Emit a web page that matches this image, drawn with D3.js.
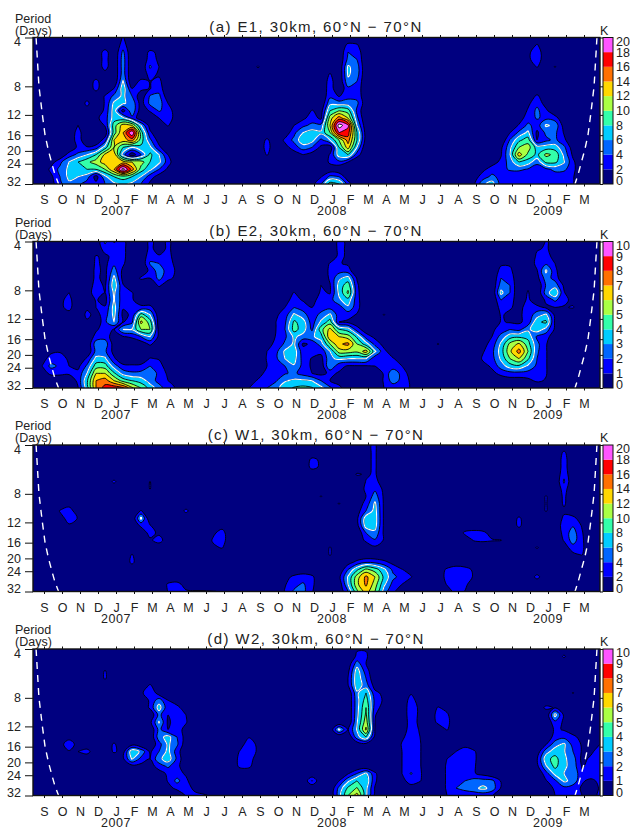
<!DOCTYPE html>
<html>
<head>
<meta charset="utf-8">
<script src="https://cdn.jsdelivr.net/npm/d3@7"></script>
<style>
  body { margin: 0; background: #fff; }
  svg { display: block; }
  text { font-family: "Liberation Sans", Arial, sans-serif; fill: #222; }
</style>
</head>
<body>
<div id="chart-area"></div>
<script>
const monthLabels = ["S","O","N","D","J","F","M","A","M","J","J","A","S","O","N","D","J","F","M","A","M","J","J","A","S","O","N","D","J","F","M"];
const yearLabels = ["2007", "2008", "2009"];
const yearMonths = [4, 16, 28];
const periodTicks = [4, 8, 12, 16, 20, 24, 32];
const bandColors = ["#000080","#0000ff","#0066ff","#00ccff","#33ffaa","#aaff44","#ffd800","#ff7000","#ff0000","#ff55ff"];

// cone of influence, month position for each period
const conePeriods = [4, 8, 12, 16, 20, 24, 28, 32];
const coneLeft = [-0.44, -0.28, -0.09, 0.06, 0.25, 0.44, 0.61, 0.81];
const coneRight = [30.72, 30.56, 30.37, 30.22, 30.03, 29.83, 29.67, 29.5];

// amplitude grid: half month columns, 21 rows between 4 and 32 days
// each entry is [row, first column, values...], anything not listed is 0
const e1Cells = [
  [0,10,2.2],[1,10,3],[2,8,3],[2,10,4.5],[2,13,2.6,1.4],[3,8,3],[3,10,5],[3,13,3,1.6],
  [4,8,3],[4,10,5],[4,13,4.3,2],[4,25,2.3],[5,8,1],[5,10,5],[5,13,3,1.6],
  [6,7,2.8],[6,10,6.2],[6,12,2.8,1.9,2.6],[7,7,2.8],[7,9,2.1,7.2,2.1],[7,12,2.5,1.9,3.2],
  [8,6,1],[8,8,2.2,4.5,6.5,4,.5],[8,13,4.2,4.5,.5],[9,6,2.6],[9,8,2.2,6.5,6.2,5.5,1],[9,13,4.5,5,2],
  [10,6,1],[10,8,2.5,7,1,5.5,.8],[10,13,2.2,4.2,3.2,.5],[11,7,1.5,3,7,6.5,3.5,.5,.5,2,3.5,.5],
  [12,5,2],[12,8,2.2,9,13,12,6,1,.5,2.2],[13,5,3],[13,8,.5,9,14,20,9,2.5],
  [14,5,3.2],[14,8,3,12,13,15,9,4.5,1],[14,26,2.5],[15,5,2.5,2.2,3,7,12,8,6,7.5,6.5,2.5],[15,26,3],
  [16,4,3,4.5,6,8,12.5,13.5,5,.5,4,8.5,6,2],[16,26,2.2],
  [17,2,1,3.5,6,8,9.5,11,13,13,13,12,11,8,6.5,3],
  [18,2,2.6,4.5,6.5,7.5,8,8,10,14,21,15,9,6.5,4,1.5],
  [19,2,1.5,4,6.6,6,5,1,5.5,8,9,8,6,3,1],
  [20,2,1,3.5,5.5,4.5,3,2.5,4,5.5,6.5,5.5,4,1.5],
  // winter 2008
  [1,35,2.5,2.2],[2,35,4,3.4],[3,35,4.5,4],[4,35,6.3,5],[5,33,2.2],[5,35,6.3,5],[6,33,3],[6,35,5.5,4],
  [7,33,3.2],[7,35,3.5,3.5],[8,33,3.5,1.8,3.3,3.3,.5],[9,33,5.5,5,5,4.5,.5],
  [10,31,2.2,1,8,10,9,3.5],[11,30,1.5,3,1.5,11,15,12,4.5],[12,29,2,3.5,4.5,4.5,12,21,18.5,6,.5],
  [13,28,.5,3.5,6,7,6.5,10,18,17,8,1],[14,28,2.5,4.5,7.5,6.8,3.5,6,10,15,8,1],
  [15,28,1.2,3,5,4,1.5,.5,8,13,6],[16,29,.8,2,1,0,2.2,7,8,3],[17,33,2.5,3.5,2],[18,33,.5],
  [19,32,1.8,4.5,4,.5],[20,31,1,4,9,8,3],
  // winter 2009
  [1,56,2.2],[2,55,1.5,3.2,.5],[3,55,1.5,3.2,.5],[4,56,2.2],[4,58,2.2],[8,56,2.5],[9,55,1.5,3.5,1],
  [10,55,2.3,4.5,2.5],[11,54,1,3,4.2,3.5,3],[12,53,.5,2.2,4.5,3,6.3,5.5,1],
  [13,53,2,4.5,6.5,1.5,4.5,4.5,1.8],[14,53,4.2,7.5,9,2,3.5,4.5,2.5],
  [15,52,1.5,5.5,10,11,7,7,7,4.5,.8],[16,52,1.8,6,13,9.5,7.5,10.5,9.5,5.5,1.5],
  [17,51,1,2.5,5,8,7,4.5,8.5,8.5,6.2,2.5],[18,50,1.5,3,3.5,4.2,4.4,3.8,3,3.5,4.5,4.5,2.5,.5],
  [19,49,1,3,4.5,3.3,3,2.5,2.2,2.2,2.5,3,2.5,2.2],[20,49,1.5,5.5,7,3,2.5,2.5,2.5,2.5,2.5,2.5,2.5,2.2]
];

const e2Cells = [
  [0,8,2.2,.9,1.4],[1,8,1.6,1.5,1.4],[2,7,1.1,.7,1.4,1.4],[3,7,1.2,.7,1.8,1.2],[4,7,1.3,.7,2.5,.7],
  [5,7,1.3,.6,3.3,.6],[5,12,1.2],[6,7,1.6,.8,3.7,1.1],[7,7,2,1,3.2,1.3,1.1],[8,7,1.1,.6,3.1,1.4,1.1,.5],
  [9,7,1,1.1,3.4,1.1,1.1,1.2,1.4],[10,7,.6,1.5,3.3,.7,1.2,4.5,3,.3],[11,8,1.8,3,.9,1.8,6.3,4.5,.3],
  [12,7,.8,1.6,.9,3,3.1,5,5,.5],[13,7,1.4,1.6,.4,.9,1.2,2,3,.7],[14,7,2.6,2.6,.5,0,0,.3,1.2,.3],
  [15,7,2.3,2.2,.6],[16,6,1.2,3.3,3.2,1.2],[16,13,1.1,.9],
  [17,5,.7,2.2,4.5,4.5,2.5,1.3,1.2,1.3,2,1.5,.3],[18,5,1.3,3,6,6,4.2,2.6,2.2,2.3,2.8,1.7,.8],
  [19,5,1.3,3.8,7,7.5,6,4.6,4,3.5,2.6,1.6,1],[20,5,.9,3.5,7,8.4,8.8,8.2,6.2,5,3.5,2.5,1.3,.9],
  [7,4,1],[8,3,.7,1.4],[9,3,.7,1.4],[10,4,.5],[9,6,.8],[10,6,1.3],[11,6,.8],
  [15,2,.8,.9],[16,1,.6,1.4,1.5,.8],[17,1,1,2.3,1.8,1],[18,1,.4,1.3,1.3,1.2],
  [0,13,1.3,.5,1.2,.5],[1,13,1.3,.5,1.2,.5],[2,13,1.7,1.1,1.3,.5],[3,13,2.1,2,1.5,.6],
  [4,13,1.3,2.5,1.6,.8],[5,13,1,2.3,1.3,.7],[6,14,1.2,.3],
  // winter 2008
  [0,34,1.3,.8],[1,34,1.3,.8],[2,34,1.3,.8],[3,33,1.1,1.1,.8],[4,33,1.3,1.6,1.5],[5,33,1.2,2.8,3.4,.9],
  [6,32,1,.9,3.4,4.6,1.2],[7,29,1.1],[7,32,1.2,.9,3.2,5.2,1.3],[8,28,.6,1.4,.9,.6,1.5,1.6,2.8,3.6,1.4],
  [9,28,1,2,1.6,1,1.5,1.7,1.5,2.8,1.4],[10,27,.8,1.5,3.2,2.4,1.4,2.3,3.2,1.5,1.4,.9],
  [11,27,1,1.8,4.2,3.5,1.5,3.2,4.5,1,.8,.3],[12,27,1,2,4.4,3.5,1.8,4.6,6.3,4,3.5,1.5,.3],
  [13,27,1.1,1.8,3.2,2.6,2.8,3.5,6.8,6,5.5,3.8,1.6,.7],[14,26,.7,1.2,2.2,3.2,.8,1.2,2.5,5,6.8,7.3,5,3.5,1.7,.6],
  [15,26,1,1.7,3.2,3.6,1.4,1.5,1.3,3,5.5,5.5,5.2,6.5,3.2,1.3,.3],
  [16,26,1.1,1.8,3,3.4,1.6,.9,.6,2.8,3.2,3,3,3,1.3,1.4,1.1,.4],
  [17,26,1,1.5,2,2.9,1.7,.8,.3,3,1.3,.9,.9,.9,1,1.3,1.4,1],
  [18,25,.6,1.3,1.6,1.9,2.2,1.6,1,.7,1.2,.9,.3,.3,.3,.3,1.1,2.8,1.6,.5],
  [19,24,.6,1.1,1.6,1.9,2.9,3.2,3.2,3,2,1,.7,.3,.3,.3,.3,1.1,2.5,1.7,.8],
  [20,24,1,1.4,2,2.6,3.6,4.1,4.3,4.1,3.3,2.2,1.2,.5,.5,.5,.5,1,1.3,1.4,.9],
  [10,39,1.1],[14,45,1.1],
  // winter 2009
  [3,52,.8,.8],[4,52,1.4,1.3],[5,52,2,1.7],[6,52,2.5,2],[7,52,3.3,2],[8,52,2,1.7],[9,52,1.4,1.1],[10,52,1.1,.8],[11,52,1.1,.9],
  [6,55,.8],[7,55,1.1],[8,55,1.3],[9,54,.7,1.4,1.4],[10,54,.8,1.4,2.5,3.2,.7],[11,54,.8,1.4,3.8,4.2,.8],
  [12,51,.8,1.4,2,1.7,2.8,3.6,2.6,.8],[13,51,1,2.4,3.6,3.8,3.7,1.8,1.4,.3],[14,50,.6,1.4,3.2,5.3,6.2,4.4,2.3,1.1],
  [15,50,.9,1.7,3.5,5.8,7.4,5,2.2,1.1],[16,50,1.2,1.6,3.2,5,6,4.2,2,1.1],[17,50,.6,1.2,2.5,3.5,3.8,2.8,1.8,1.1],
  [18,51,.7,1.3,1.6,1.6,1.6,1.4,1.1],[19,52,.3,.5,.5,.7,1.2,.9],
  [0,57,1.1,.7],[1,56,.9,1.1,.7],[2,56,1.2,1.2,.8],[3,56,1.4,1.8,1],[4,56,.9,3.2,1.3],[5,56,.6,2.5,1.6],
  [6,57,2.1,2.6,.8],[7,57,2.5,3.9,1.1],[8,57,1.2,2.2,1.3,.7],[9,57,.8,1,.9,1.1]
];

const w1Cells = [
  [8,4,1],[9,3,2.2,3.2,.5],[10,3,1,3,1.9],[11,4,1.7,1.5],[5,9,2.5],[5,13,2.1],[6,13,2.1],[9,17,2.6],
  [11,21,1],[12,20,1.5,3],[13,20,2.3,3.2],[14,20,1.5,2.2],[9,12,2.2],[10,12,6.5],[11,12,2.5,2.2],[12,13,3,1.4],[13,13,1.5,3.2,.3],
  [15,11,2.2],[16,11,2.6],[19,15,2.3,2.8,1],[20,15,2.1,2.5,2.3,2.3,2.3,2.1,1.8],
  [17,30,.8],[18,28,1.2,2.5,2.8,2.5],[19,28,1.8,3.3,4.3,2.6],[20,28,2.2,4.3,4.6,2.2],[2,31,2.6,1.6],[3,31,2.8,1.6],
  // March 2008 spike and low period blob
  [0,37,1.6,2.3],[1,37,1.6,2.3],[2,37,1.6,2.3],[3,37,1.6,2.3],[4,36,2.3,1.7,2.3],[5,37,2.1,2.8,.5],[6,37,2.6,3.6,1.5],
  [7,32,2.2],[7,37,2,5,1.6],[8,34,2.2],[8,36,.5,2.8,6.4,1.6],[9,36,1,4,6.8,1.6],[10,36,1.5,7.2,7,1.6],[11,36,1.2,7,6.8,1.6],
  [12,37,4,5.5,1.6],[13,37,2.6,3.8,1.8],[14,38,1.6,.8],
  [16,35,1,2.6,3.8,3.5,2.6,1.3],[17,35,4,7.5,10.5,9,6.5,3.5,2.1,1],[18,34,1.4,6.2,11,14.5,12,7.5,4.5,3.2,2.2],
  [19,34,.5,6,11.5,14.4,11,6.5,3.3,2,.5],[20,35,4,9.5,13,10,5,2.3,1],[14,33,2.2],[15,33,2.2],
  [16,47,.8],[17,45,.5,2.4,3,3,1.5],[18,45,1,2.5,3,2.9,1.8],[19,46,2.2,2.9,2.6,.5],[20,46,.8,2.8,1.9],
  [12,48,2.5,3,2.6,1],[13,48,.5,2.2,2.5,2.2,2.1],[10,54,2.5],[11,54,2.6],[14,56,2.3],[18,56,2.8],[7,57,2.2],[8,57,2.2],[9,57,2.2],
  [1,59,2.4],[2,59,3],[3,59,3],[4,59,3.5],[5,59,4.3],[6,59,3],[7,59,2.5],[8,59,2.4],[9,59,1.5],
  [10,59,2.5,2.8,.5],[11,59,3.3,3.8,1.8],[12,59,2.8,5,2.2],[13,59,2.2,5,2.4],[14,59,.8,3.2,2.5],[15,60,1.4,2.1]
];

const w2Cells = [
  [3,8,1.1],[4,8,1.15],[12,4,.6],[13,3,.6,1.6,.6],[14,4,.9,1,1.5],[13,9,1.2],[14,9,1.2],
  [13,11,.6],[14,10,.5,3.8,2.8],[15,10,.8,3.1,1.7],[16,11,.6,.6],
  [5,13,1.2],[6,12,.7,2,.4],[7,13,1.2,2.5,1],[8,13,1.2,3.5,1.3,1.5],[9,14,2.3,1,1.5,1],[10,13,.7,3.1,.8,1.5,1.1],
  [11,14,2.3,1,1.5,.6],[12,14,2.6,3.4,2,.5],[13,14,1.6,3.2,2.2,.3],[14,13,.8,2,3.3,1.5],[15,13,1,2.7,3.6,1.8],
  [16,13,.5,1.5,2.2,1.3,.3],[17,14,.5,1.2,1.5,.8],[18,15,1.1,2.3,1.3],[19,15,.6,1.3,1.5,.7],[20,17,1.1,1.3,1.2,.7],
  [12,24,.9],[13,23,.4,1.7,.7],[14,23,1.1,1.7,.8],[15,23,1.4,1.5,.4],[16,23,1.3,1.3],[18,31,2.1],
  // March 2008
  [0,36,.9,.9],[1,36,1.2,1.2],[2,35,.3,2.5,1],[3,35,.7,3.5,1.5],[4,35,1,3.7,2],[5,35,.9,3.6,2.5,.5],[6,36,2.8,4,1.3,.7],
  [7,36,2.6,4.5,1.7,.8],[8,36,2.6,5,1.5,.5],[9,36,2.7,5.2,1.1],[10,36,2.9,5.6,1],[11,34,3.3,.9,3.1,6.2,.9],[12,36,2.6,4,.7],[13,36,.3,.6],
  [17,34,.3,.9,2,3.2,1.2],[18,34,1,2.8,4,3.8,1.2],[19,34,2.3,4.2,5.1,3.3,.9],[20,34,2.5,5,6.4,3.2,.7],
  [6,42,.9],[7,41,.3,1.4,.5],[8,41,.4,1.5,.8],[9,41,.4,1.5,.8],[10,41,.4,1.4,.8],[11,41,.4,1.5,.9],[12,41,.8,1.5,1],[13,41,1.1,1.7,1.1],
  [14,41,1,1.5,1.1],[15,41,1,1.5,1.1],[16,41,1,1.5,1.1],[17,41,1,2.1,1.2],[18,41,.7,1.4,1.1],[19,41,.3,.6],
  [8,45,1.1,.6],[9,45,1.5,1.2],[10,45,1.3,1.4],[11,46,1.1],
  [13,48,.5],[14,47,1,1.7,1.2],[15,46,1,1.5,1.6,1.3],[16,46,1.2,1.3,1.4,1.2],[17,46,1.2,1.3,1.3,1.1,.6],
  [18,46,1.2,1.6,2,2.4,2.4,2.3,.9],[19,46,1.2,2,2.4,2.7,3.3,2.6,.9],[20,46,1,1.2,1.2,1.3,1.3,1.1],
  // winter 2009
  [8,57,1.3,.9],[1,59,1.2],[6,60,1.1],[9,58,3.4,.8],[10,58,1.7,.8],[11,58,1.2,.9,.5],[12,57,.4,1.3,1.7,1.2,.7],
  [13,57,.9,2.6,3.2,1.6,.9,.3,1],[14,56,.3,2.6,3.5,3.1,2,.9,.8,1.5],[15,56,.9,3.6,4.4,3.2,2.5,.7,1.2,1.5],
  [16,56,.7,2.9,4.3,3.2,2.6,.9,1.3,1.5],[17,57,1.6,3.3,3,2.9,1.2,1.5,1.5],[18,57,.9,1.8,3.2,2.7,1.1,.8,1.2],
  [19,58,1.3,1.7,1.4,.9,.5,1.1],[20,58,1,1.2,1.2,1,.8,1.1]
];

const panels = [
  { title: "(a) E1, 30km, 60°N − 70°N", cells: e1Cells, step: 2, top: 37.5 },
  { title: "(b) E2, 30km, 60°N − 70°N", cells: e2Cells, step: 1, top: 241.5 },
  { title: "(c) W1, 30km, 60°N − 70°N", cells: w1Cells, step: 2, top: 445 },
  { title: "(d) W2, 30km, 60°N − 70°N", cells: w2Cells, step: 1, top: 649 },
];

const nCols = 64;
const nRows = 21;
const firstColMonth = -0.611;
const plotHeight = 146.5;
const plotLeft = 33;
const plotRight = 600;
const barLeft = 603;
const barRight = 613;

const x = d3.scaleLinear().domain([0, 30]).range([44, 584]);
const y = d3.scaleLog().domain([4, 32]).range([0, plotHeight]);
const colX = (c) => x(firstColMonth + c * 0.5);
const rowY = (r) => y(4 * Math.pow(8, r / (nRows - 1)));

const svg = d3
  .select("#chart-area")
  .append("svg")
  .attr("width", 630)
  .attr("height", 827);

svg
  .append("defs")
  .append("clipPath")
  .attr("id", "plot-clip")
  .append("rect")
  .attr("x", plotLeft)
  .attr("y", 0)
  .attr("width", plotRight - plotLeft)
  .attr("height", plotHeight);

function buildGrid(cells) {
  const grid = new Array(nCols * nRows).fill(0);
  cells.forEach(([row, col, ...vals]) => {
    vals.forEach((v, i) => {
      grid[row * nCols + col + i] = v;
    });
  });
  return grid;
}

// contour coordinates put grid nodes on half units
const ringLine = d3
  .line()
  .x((p) => colX(p[0] - 0.5))
  .y((p) => rowY(p[1] - 0.5))
  .curve(d3.curveCatmullRomClosed.alpha(0.5));

function contourPath(contour) {
  return contour.coordinates
    .map((polygon) => polygon.map((ring) => ringLine(ring.slice(1))).join(""))
    .join("");
}

function drawContours(g, panel) {
  const levels = d3.range(1, 11).map((i) => i * panel.step);
  const contours = d3
    .contours()
    .size([nCols, nRows])
    .thresholds(levels)(buildGrid(panel.cells));

  const plot = g.append("g").attr("clip-path", "url(#plot-clip)");

  plot
    .append("rect")
    .attr("x", plotLeft)
    .attr("width", plotRight - plotLeft)
    .attr("height", plotHeight)
    .attr("fill", bandColors[0]);

  // colour above the top level is left white, as in the picture
  plot
    .selectAll("path.band")
    .data(contours)
    .join("path")
    .attr("class", "band")
    .attr("d", contourPath)
    .attr("fill", (d, i) => (i < 9 ? bandColors[i + 1] : "#ffffff"))
    .attr("fill-rule", "evenodd")
    .attr("stroke", "#000")
    .attr("stroke-width", 0.9);

  // the 3 step level is drawn white
  plot
    .selectAll("path.signif")
    .data(contours.filter((d) => d.value === 3 * panel.step))
    .join("path")
    .attr("class", "signif")
    .attr("d", contourPath)
    .attr("fill", "none")
    .attr("stroke", "#fff")
    .attr("stroke-width", 1.1);

  const coneLine = d3
    .line()
    .x((d) => x(d[0]))
    .y((d) => y(d[1]));

  [coneLeft, coneRight].forEach((side) => {
    plot
      .append("path")
      .attr("d", coneLine(side.map((m, i) => [m, conePeriods[i]])))
      .attr("fill", "none")
      .attr("stroke", "#fff")
      .attr("stroke-width", 1.4)
      .attr("stroke-dasharray", "7 6");
  });
}

function drawAxes(g) {
  const monthTicks = d3.range(0, monthLabels.length);

  const bottom = g
    .append("g")
    .attr("transform", `translate(0,${plotHeight})`)
    .call(
      d3
        .axisBottom(x)
        .tickValues(monthTicks)
        .tickSize(2.5)
        .tickPadding(9)
        .tickFormat((d) => monthLabels[d])
    );
  bottom.select(".domain").remove();
  bottom.selectAll("text").attr("font-size", 12.5);

  const top = g.append("g").call(
    d3.axisTop(x).tickValues(monthTicks).tickSize(2.5).tickFormat("")
  );
  top.select(".domain").remove();

  const left = g
    .append("g")
    .attr("transform", `translate(${plotLeft},0)`)
    .call(
      d3
        .axisLeft(y)
        .tickValues(periodTicks)
        .tickSize(8)
        .tickPadding(4)
        .tickFormat((d) => d)
    );
  left.select(".domain").remove();
  left
    .selectAll("text")
    .attr("font-size", 12.5)
    .attr("dy", (d) => (d === 4 ? "0.65em" : d === 32 ? "0.08em" : "0.32em"));

  const right = g
    .append("g")
    .attr("transform", `translate(${plotRight},0)`)
    .call(d3.axisRight(y).tickValues(periodTicks).tickSize(3).tickFormat(""));
  right.select(".domain").remove();

  g.selectAll(".tick line").attr("stroke", "#111");

  g.selectAll("text.year")
    .data(yearLabels)
    .join("text")
    .attr("class", "year")
    .attr("x", (d, i) => x(yearMonths[i]))
    .attr("y", plotHeight + 31)
    .attr("text-anchor", "middle")
    .attr("font-size", 12.5)
    .attr("letter-spacing", 0.5)
    .text((d) => d);

  g.append("rect")
    .attr("x", plotLeft)
    .attr("width", plotRight - plotLeft)
    .attr("height", plotHeight)
    .attr("fill", "none")
    .attr("stroke", "#111")
    .attr("stroke-width", 1.4);

  g.append("text")
    .attr("x", 15)
    .attr("y", -15)
    .attr("font-size", 12.5)
    .text("Period");
  g.append("text")
    .attr("x", 15)
    .attr("y", -3)
    .attr("font-size", 12.5)
    .text("(Days)");
}

function drawColorBar(g, panel) {
  const barTicks = d3.range(0, 11).map((i) => i * panel.step);
  const barY = d3
    .scaleLinear()
    .domain([0, 10 * panel.step])
    .range([plotHeight, 0]);

  g.selectAll("rect.band")
    .data(bandColors)
    .join("rect")
    .attr("class", "band")
    .attr("x", barLeft)
    .attr("y", (d, i) => barY((i + 1) * panel.step))
    .attr("width", barRight - barLeft)
    .attr("height", barY(0) - barY(panel.step))
    .attr("fill", (d) => d);

  g.append("rect")
    .attr("x", barLeft)
    .attr("width", barRight - barLeft)
    .attr("height", plotHeight)
    .attr("fill", "none")
    .attr("stroke", "#111")
    .attr("stroke-width", 1);

  g.selectAll("text.bar-label")
    .data(barTicks)
    .join("text")
    .attr("class", "bar-label")
    .attr("x", barRight + 3)
    .attr("y", (d, i) => barY(d) + (i === 0 ? -3 : i === 10 ? 4 : 0))
    .attr("dy", "0.35em")
    .attr("font-size", 12.5)
    .text((d) => d);

  g.append("text")
    .attr("x", barLeft - 3)
    .attr("y", -3)
    .attr("font-size", 12.5)
    .text("K");
}

panels.forEach((panel) => {
  const g = svg.append("g").attr("transform", `translate(0,${panel.top})`);
  drawContours(g, panel);
  drawAxes(g);
  drawColorBar(g, panel);
  g.append("text")
    .attr("x", 316)
    .attr("y", -5.5)
    .attr("text-anchor", "middle")
    .attr("font-size", 15)
    .attr("letter-spacing", 1.4)
    .text(panel.title);
});
</script>
</body>
</html>
